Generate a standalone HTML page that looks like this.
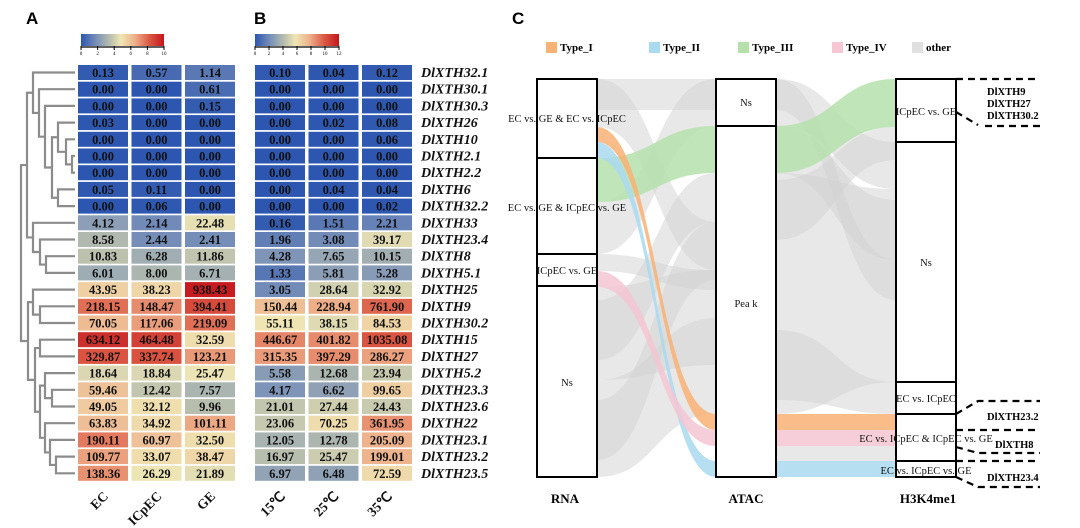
<!DOCTYPE html>
<html><head><meta charset="utf-8">
<style>
html,body{margin:0;padding:0;background:#fff;}
svg{display:block;font-family:"Liberation Serif",serif;}
.panel{font-family:"Liberation Sans",sans-serif;font-weight:bold;font-size:17px;}
</style></head>
<body>
<svg id="fig" width="1080" height="528" viewBox="0 0 1080 528" xmlns="http://www.w3.org/2000/svg">
<defs>
<linearGradient id="gA" x1="0" x2="1" y1="0" y2="0">
<stop offset="0" stop-color="#2c56b0"/><stop offset="0.2" stop-color="#7f95b8"/><stop offset="0.35" stop-color="#b9bfae"/><stop offset="0.48" stop-color="#efe6b4"/><stop offset="0.65" stop-color="#eeb08a"/><stop offset="0.82" stop-color="#dc5a45"/><stop offset="1" stop-color="#c4161c"/>
</linearGradient>
</defs>
<text class="panel" x="26" y="24">A</text>
<text class="panel" x="254" y="24">B</text>
<text class="panel" x="512" y="24">C</text>
<g id="colorbars"></g>
<g id="dendro" stroke="#8c8c8c" stroke-width="2.2" fill="none"></g>
<g id="heat"></g>
<g id="sankey"></g>
</svg>
<script>
const NS='http://www.w3.org/2000/svg';
const genes=['DlXTH32.1','DlXTH30.1','DlXTH30.3','DlXTH26','DlXTH10','DlXTH2.1','DlXTH2.2','DlXTH6','DlXTH32.2','DlXTH33','DlXTH23.4','DlXTH8','DlXTH5.1','DlXTH25','DlXTH9','DlXTH30.2','DlXTH15','DlXTH27','DlXTH5.2','DlXTH23.3','DlXTH23.6','DlXTH22','DlXTH23.1','DlXTH23.2','DlXTH23.5'];
const colsA=['EC','ICpEC','GE'];
const colsB=['15℃','25℃','35℃'];
const ecVals=[0.13,0,0,0.03,0,0,0,0.05,0,4.12,8.58,10.83,6.01,43.95,218.15,70.05,634.12,329.87,18.64,59.46,49.05,63.83,190.11,109.77,138.36];
const icpecVals=[0.57,0,0,0,0,0,0,0.11,0.06,2.14,2.44,6.28,8.00,38.23,148.47,117.06,464.48,337.74,18.84,12.42,32.12,34.92,60.97,33.07,26.29];
const geVals=[1.14,0.61,0.15,0,0,0,0,0,0,22.48,2.41,11.86,6.71,938.43,394.41,219.09,32.59,123.21,25.47,7.57,9.96,101.11,32.50,38.47,21.89];
const t15Vals=[0.10,0,0,0,0,0,0,0,0,0.16,1.96,4.28,1.33,3.05,150.44,55.11,446.67,315.35,5.58,4.17,21.01,23.06,12.05,16.97,6.97];
const t25Vals=[0.04,0,0,0.02,0,0,0,0.04,0,1.51,3.08,7.65,5.81,28.64,228.94,38.15,401.82,397.29,12.68,6.62,27.44,70.25,12.78,25.47,6.48];
const t35Vals=[0.12,0,0,0.08,0.06,0,0,0.04,0.02,2.21,39.17,10.15,5.28,32.92,761.90,84.53,1035.08,286.27,23.94,99.65,24.43,361.95,205.09,199.01,72.59];
const ticksA=[0,2,4,6,8,10];
const ticksB=[0,2,4,6,8,10,12];
const svg=document.getElementById('fig');
function el(tag,attrs,parent){const e=document.createElementNS(NS,tag);for(const k in attrs)e.setAttribute(k,attrs[k]);(parent||svg).appendChild(e);return e;}
const stops=[[0,[44,86,176]],[0.2,[127,149,184]],[0.35,[185,191,174]],[0.48,[239,230,180]],[0.65,[238,176,138]],[0.82,[220,90,69]],[1,[196,22,28]]];
function col(t){t=Math.max(0,Math.min(1,t));for(let i=1;i<stops.length;i++){if(t<=stops[i][0]){const a=stops[i-1],b=stops[i];const f=(t-a[0])/(b[0]-a[0]);const c=a[1].map((v,j)=>Math.round(v+(b[1][j]-v)*f));return 'rgb('+c.join(',')+')';}}return 'rgb(196,22,28)';}
const rowY=i=>65+i*16.7;
const rowH=15;
const cellW=50;
const heat=document.getElementById('heat');
function drawPanel(series,x0,max,names,tag){
  series.forEach((vals,c)=>{
    const x=x0+c*53.5;
    vals.forEach((v,i)=>{
      const r=el('rect',{x:x,y:rowY(i),width:cellW,height:rowH,fill:col(Math.log2(v+1)/max)},heat);
      
      
      const t=el('text',{x:x+cellW/2,y:rowY(i)+12,'text-anchor':'middle','font-size':'12.5','font-weight':'bold',fill:'#111'},heat);
      t.textContent=v.toFixed(2);
      
      
    });
    const lx=x+cellW/2+6, ly=497;
    const lt=el('text',{x:lx,y:ly,'text-anchor':'end','font-size':'13.5','font-weight':'bold',fill:'#111',transform:'rotate(-45 '+lx+' '+ly+')'},heat);
    lt.textContent=names[c];
    
    
  });
}
drawPanel([ecVals,icpecVals,geVals],78,10,colsA,'a');
drawPanel([t15Vals,t25Vals,t35Vals],255,12,colsB,'b');
genes.forEach((g,i)=>{
  const t=el('text',{x:421,y:rowY(i)+12,'font-size':'14','font-weight':'bold','font-style':'italic',fill:'#111'},heat);
  t.textContent=g;
  
  
});
const cb=document.getElementById('colorbars');
function colorbar(x,w,ticks,name){
  const max=ticks[ticks.length-1];
  const r=el('rect',{x:x,y:34,width:w,height:12,fill:'url(#gA)'},cb);
  
  
  el('line',{x1:x,x2:x+w,y1:47,y2:47,stroke:'#000','stroke-width':1.2},cb);
  ticks.forEach(v=>{const tx=x+w*v/max;el('line',{x1:tx,x2:tx,y1:46,y2:50,stroke:'#000'},cb);
    const t=el('text',{x:tx,y:55,'font-size':'5','text-anchor':'middle'},cb);t.textContent=v;
    
    });
}
colorbar(81,83,ticksA,'colorbar-a');
colorbar(255,84,ticksB,'colorbar-b');
const tree=[[[0,[1,[2,[[3,[4,[5,6,72],66],58],[7,8,58],52],45],39],33],[9,[10,[11,12,46],40],33],27],[[13,[14,15,40],33],[[16,17,40],[[18,[19,20,52],45],[21,[22,[23,24,56],50],45],40],35],28],21];
const dg=document.getElementById('dendro');
const LEAFX=75;
function drawNode(n){
  if(typeof n==='number') return {y:rowY(n)+rowH/2,x:LEAFX};
  const a=drawNode(n[0]),b=drawNode(n[1]),x=n[2];
  el('path',{d:'M'+a.x+' '+a.y+'H'+x+'V'+b.y+'H'+b.x},dg);
  return {y:(a.y+b.y)/2,x:x};
}
drawNode(tree);
const sk=document.getElementById('sankey');
const flowColors={I:'#f9b275',II:'#a9daf0',III:'#b5e0ab',IV:'#f5c6d3',other:'#d2d2d2'};
const legendTypes=['Type_I','Type_II','Type_III','Type_IV','other'];
const legendKeys=['I','II','III','IV','other'];
const legendX=[546,649,738,832,912];
legendTypes.forEach((n,i)=>{
  const g=el('g',{},sk);
  
  
  el('rect',{x:legendX[i],y:42,width:11,height:11,fill:n==='other'?'#e0e0e0':flowColors[legendKeys[i]]},g);
  const t=el('text',{x:legendX[i]+14,y:51,'font-size':'11','font-weight':'bold'},g);t.textContent=n;
});
// flows: type, source [x,top,bottom], destination [x,top,bottom]
const flowTypes=['other','other','other','other','other','other','other','other','other','other','other','other','other','other','other','other','III','III','I','I','II','II','IV','IV'];
const flowSrc=[[597,79,127],[597,79,110],[597,202,254],[597,254,271],[597,287,380],[597,380,477],[597,300,360],[597,400,460],[776,79,126],[776,173,300],[776,300,414],[776,446,461],[776,79,110],[776,180,240],[776,330,400],[776,126,173],[597,158,202],[776,126,173],[597,127,142],[776,414,430],[597,142,158],[776,461,477],[597,271,287],[776,430,446]];
const flowDst=[[716,222,270],[716,79,110],[716,79,126],[716,270,290],[716,270,365],[716,318,414],[716,173,222],[716,222,280],[896,142,189],[896,189,300],[896,300,382],[896,446,461],[896,260,300],[896,127,160],[896,382,414],[896,200,260],[716,126,173],[896,79,127],[716,414,430],[896,414,430],[716,461,477],[896,461,477],[716,430,446],[896,430,446]];
flowTypes.forEach((ty,i)=>{
  const [x1,t1,b1]=flowSrc[i],[x2,t2,b2]=flowDst[i],m=(x1+x2)/2;
  const p=el('path',{d:`M${x1} ${t1}C${m} ${t1} ${m} ${t2} ${x2} ${t2}L${x2} ${b2}C${m} ${b2} ${m} ${b1} ${x1} ${b1}Z`,fill:flowColors[ty],'fill-opacity':ty==='other'?0.5:0.85},sk);
  
  
});
const nodeX=[537,537,537,537,716,716,896,896,896,896,896];
const nodeTop=[79,158,254,286,79,126,79,142,382,414,461];
const nodeBot=[158,254,286,477,126,477,142,382,414,461,477];
const nodeLabels=['EC vs. GE & EC vs. ICpEC','EC vs. GE & ICpEC vs. GE','ICpEC vs. GE','Ns','Ns','Pea k','ICpEC vs. GE','Ns','EC  vs.  ICpEC','EC vs. ICpEC & ICpEC vs. GE','EC vs. ICpEC vs. GE'];
const nodeLabelY=[122,211,274,386,106,307,115,266,402,442,474];
nodeX.forEach((x,i)=>{
  const r=el('rect',{x:x,y:nodeTop[i],width:60,height:nodeBot[i]-nodeTop[i],fill:'#fff','fill-opacity':0,stroke:'#000','stroke-width':2},sk);
  
  
});
nodeX.forEach((x,i)=>{
  const t=el('text',{x:x+30,y:nodeLabelY[i],'text-anchor':'middle','font-size':'10.5',fill:'#111'},sk);
  t.textContent=nodeLabels[i];
  
  
});
const axisNames=['RNA','ATAC','H3K4me1'];
const axisX=[565,746,928];
axisNames.forEach((n,i)=>{const t=el('text',{x:axisX[i],y:503,'text-anchor':'middle','font-size':'13','font-weight':'bold'},sk);t.textContent=n;
  
  });
const dash={stroke:'#000','stroke-width':2.2,'stroke-dasharray':'7 5',fill:'none'};
const callPaths=['M956 79H1040','M956 112L978 125M985 126H1040','M956 414L978 401H1040','M956 430H1040','M956 447L978 453H1040','M956 461H1040','M956 477L978 487H1040'];
callPaths.forEach(d=>{const p=el('path',Object.assign({d:d},dash),sk);});
const callTexts=['DlXTH9','DlXTH27','DlXTH30.2','DlXTH23.2','DlXTH8','DlXTH23.4'];
const callX=[987,987,987,987,995,987];
const callY=[95,107,119,420,448,481];
callTexts.forEach((s,i)=>{const t=el('text',{x:callX[i],y:callY[i],'font-size':'10.5','font-weight':'bold'},sk);t.textContent=s;
  
  });
</script>
</body></html>
